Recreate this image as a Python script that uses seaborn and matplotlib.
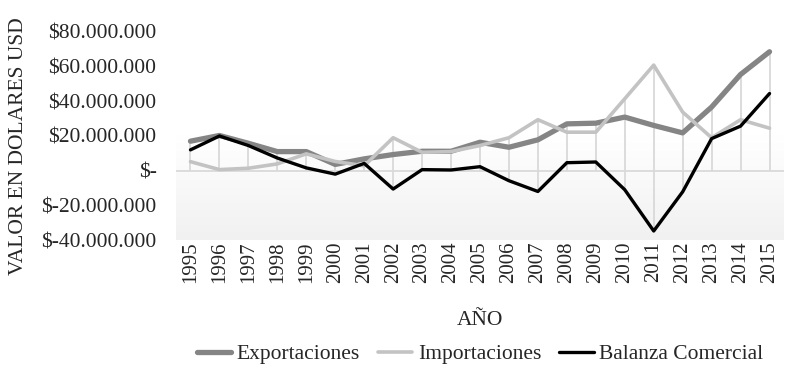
import numpy as np
import pandas as pd
import matplotlib
matplotlib.use("Agg")
import matplotlib.pyplot as plt
import seaborn as sns
from matplotlib.ticker import FixedLocator, FuncFormatter
from matplotlib.lines import Line2D

years = list(range(1995, 2016))
exportaciones = [17.0, 20.3, 15.8, 11.0, 11.0, 3.6, 6.8, 9.3, 11.2, 11.2, 16.4, 13.5, 17.8,
                 27.0, 27.4, 30.9, 26.1, 21.8, 36.7, 55.5, 68.6]
importaciones = [5.2, 0.6, 1.4, 3.9, 9.7, 5.3, 2.8, 19.0, 10.6, 11.0, 14.5, 19.0, 29.4,
                 22.2, 22.2, 41.5, 60.9, 33.8, 19.0, 29.4, 24.5]
balanza = [12.0, 20.0, 14.5, 7.3, 1.6, -2.0, 4.2, -10.6, 0.6, 0.4, 2.3, -5.8, -12.0,
           4.6, 5.0, -11.0, -34.8, -12.2, 18.5, 25.7, 44.5]
series_names = ["Exportaciones", "Importaciones", "Balanza Comercial"]
yticks = [-40, -20, 0, 20, 40, 60, 80]

df = pd.DataFrame({
    "Año": years * 3,
    "Valor": [v * 1e6 for v in exportaciones + importaciones + balanza],
    "Serie": [series_names[0]] * 21 + [series_names[1]] * 21 + [series_names[2]] * 21,
})

sns.set_theme(style="white")
plt.rcParams["font.family"] = ["Liberation Serif", "DejaVu Serif"]

fig = plt.figure(figsize=(7.92, 3.75), dpi=100)
ax = fig.add_axes([176 / 792, 1 - 240 / 375, (784 - 176) / 792, (240 - 32) / 375])

# gradient background
grad = np.linspace(1.0, 0.0, 256).reshape(-1, 1)
cmap = matplotlib.colors.LinearSegmentedColormap.from_list("g", ["#ffffff", "#ffffff", "#f1f1f1"])
ax.imshow(grad, extent=[1994.5, 2015.5, -40e6, 80e6], aspect="auto", cmap=cmap,
          vmin=0, vmax=1, origin="lower", zorder=0)

# drop lines
wide = df.pivot(index="Año", columns="Serie", values="Valor")
hi = np.maximum(wide.max(axis=1).values, 0)
lo = np.minimum(wide.min(axis=1).values, 0)
ax.vlines(wide.index.values, lo, hi, color="#d9d9d9", lw=1.3, zorder=1)
ax.axhline(0, color="#d9d9d9", lw=1.3, zorder=1)

palette = {series_names[0]: "#858585", series_names[1]: "#c3c3c3", series_names[2]: "#000000"}
sizes = {series_names[0]: 3.8, series_names[1]: 2.6, series_names[2]: 2.4}
sns.lineplot(data=df, x="Año", y="Valor", hue="Serie", size="Serie", sizes=sizes,
             palette=palette, ax=ax, zorder=3, legend=False)

ax.set_xlim(1994.5, 2015.5)
ax.set_ylim(-40e6, 80e6)
ax.xaxis.set_major_locator(FixedLocator(years))
ax.set_xticklabels([str(y) for y in years], rotation=90, fontsize=15)
ax.yaxis.set_major_locator(FixedLocator([v * 1e6 for v in yticks]))

def fmt(v, pos):
    m = int(round(v / 1e6))
    if m == 0:
        return "$-"
    s = f"{abs(m) * 1000000:,}".replace(",", ".")
    return ("$-" if m < 0 else "$") + s

ax.yaxis.set_major_formatter(FuncFormatter(fmt))
ax.tick_params(axis="y", labelsize=15.5, length=0, pad=14)
ax.tick_params(axis="x", length=0, pad=1)
for s in ax.spines.values():
    s.set_visible(False)
ax.grid(False)
ax.set_xlabel("AÑO", fontsize=15.5, labelpad=20)
ax.set_ylabel("VALOR EN DOLARES USD", fontsize=15.5)
ax.yaxis.set_label_coords(-0.243, 0.452)

handles = [Line2D([], [], color=palette[n], lw=sizes[n]) for n in series_names]
fig.legend(handles, series_names, loc="center", bbox_to_anchor=(0.606, 0.056), ncol=3,
           frameon=False, fontsize=15.5, handlelength=1.6, handletextpad=0.25,
           columnspacing=0.85)

fig.savefig("out.png", dpi=100)
